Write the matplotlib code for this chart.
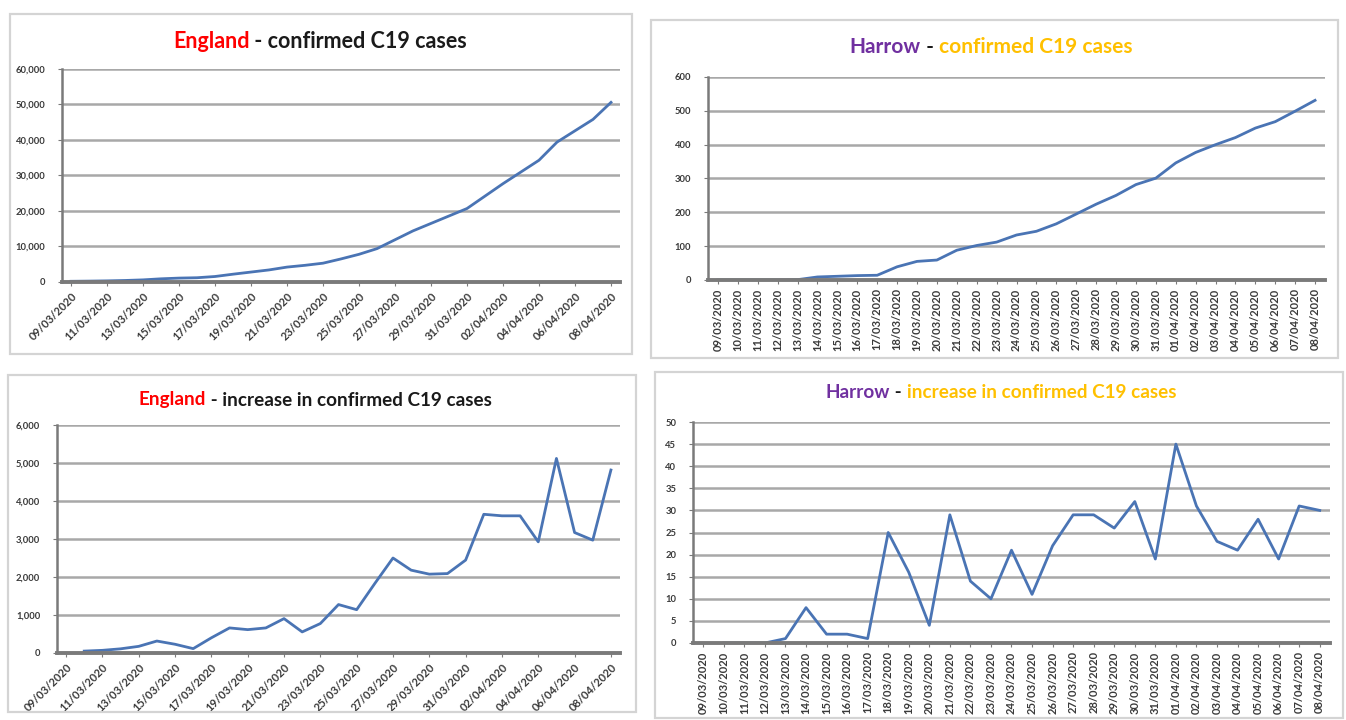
import matplotlib
matplotlib.use("Agg")
import matplotlib.pyplot as plt
from matplotlib.patches import Rectangle
from matplotlib.ticker import FuncFormatter, MultipleLocator
import numpy as np

plt.rcParams['font.family'] = ['Lato', 'DejaVu Sans']

# ---------------- data ----------------
dates = ["09/03/2020", "10/03/2020", "11/03/2020", "12/03/2020", "13/03/2020", "14/03/2020",
         "15/03/2020", "16/03/2020", "17/03/2020", "18/03/2020", "19/03/2020", "20/03/2020",
         "21/03/2020", "22/03/2020", "23/03/2020", "24/03/2020", "25/03/2020", "26/03/2020",
         "27/03/2020", "28/03/2020", "29/03/2020", "30/03/2020", "31/03/2020", "01/04/2020",
         "02/04/2020", "03/04/2020", "04/04/2020", "05/04/2020", "06/04/2020", "07/04/2020",
         "08/04/2020"]

england_confirmed = [200, 250, 320, 430, 600, 900, 1100, 1200, 1550, 2200, 2800, 3400,
                     4200, 4700, 5300, 6500, 7800, 9400, 11900, 14400, 16500, 18600,
                     20700, 24200, 27700, 31000, 34300, 39400, 42600, 45800, 50600]

england_increase = [np.nan, 50, 70, 110, 175, 315, 230, 115, 400, 660, 615, 660,
                    905, 555, 775, 1275, 1140, 1830, 2500, 2180, 2075, 2090,
                    2445, 3650, 3610, 3610, 2925, 5120, 3170, 2970, 4815]

harrow_confirmed = [0, 0, 0, 0, 1, 9, 11, 13, 14, 39, 55, 59, 88, 102, 112, 133,
                    144, 166, 195, 224, 250, 282, 301, 346, 377, 400, 421, 449,
                    468, 499, 531]

harrow_increase = [np.nan, 0, 0, 0, 1, 8, 2, 2, 1, 25, 16, 4, 29, 14, 10, 21,
                   11, 22, 29, 29, 26, 32, 19, 45, 31, 23, 21, 28, 19, 31, 30]

# ---------------- style ----------------
W, H = 1346, 720
fig = plt.figure(figsize=(W / 100, H / 100), dpi=100)
fig.patch.set_facecolor("white")

LINE_C = "#4a74b4"
GRID_C = "#a8a8a8"
AXIS_C = "#7a7a7a"
TICK_C = "#3a3a3a"
RED = "#ff0000"
PURPLE = "#7030a0"
GOLD = "#ffc000"
BLACK = "#1a1a1a"


def px_box(x0, y0, x1, y1):
    return [x0 / W, 1 - y1 / H, (x1 - x0) / W, (y1 - y0) / H]


# panel frames
for (x0, y0, x1, y1) in [(10, 14, 632, 354), (651, 20, 1338, 358),
                         (8, 375, 636, 712), (655, 372, 1343, 718)]:
    fig.patches.append(Rectangle((x0 / W, 1 - y1 / H), (x1 - x0) / W, (y1 - y0) / H,
                                 transform=fig.transFigure, fill=False,
                                 edgecolor="#d4d4d4", linewidth=1.6))


def comma_fmt(v, pos):
    return f"{int(round(v)):,}"


def setup_axes(rect, values, ymax, ystep, every, rotation, fmt_commas):
    ax = fig.add_axes(rect)
    x = np.arange(len(dates))
    ax.plot(x, values, color=LINE_C, linewidth=2.0, solid_joinstyle="round")
    ax.set_xlim(-0.5, len(dates) - 0.5)
    ax.set_ylim(0, ymax)
    ax.yaxis.set_major_locator(MultipleLocator(ystep))
    if fmt_commas:
        ax.yaxis.set_major_formatter(FuncFormatter(comma_fmt))
    ax.grid(axis="y", color=GRID_C, linewidth=1.8)
    ax.set_axisbelow(True)
    for s in ["top", "right"]:
        ax.spines[s].set_visible(False)
    ax.spines["left"].set_color(AXIS_C)
    ax.spines["left"].set_linewidth(1.8)
    ax.spines["bottom"].set_color(AXIS_C)
    ax.spines["bottom"].set_linewidth(2.8)
    ticks = x[::every]
    ax.set_xticks(ticks)
    if rotation == 45:
        ax.set_xticklabels([dates[i] for i in ticks], rotation=45, ha="right",
                           rotation_mode="anchor", fontsize=8, color=TICK_C,
                           fontweight="bold")
    else:
        ax.set_xticklabels([dates[i] for i in ticks], rotation=90, ha="center",
                           va="top", fontsize=8, color=TICK_C, fontweight="bold")
    ax.tick_params(axis="x", length=3, color=AXIS_C, pad=3)
    ax.tick_params(axis="y", length=3, color=AXIS_C, labelsize=6.8,
                   labelcolor=TICK_C, pad=9)
    for lab in ax.get_yticklabels():
        lab.set_fontweight("bold")
    return ax


ax1 = setup_axes(px_box(62, 69, 620, 282), england_confirmed, 60000, 10000, 2, 45, True)
ax2 = setup_axes(px_box(708, 77, 1325, 280), harrow_confirmed, 600, 100, 1, 90, False)
ax3 = setup_axes(px_box(57, 425, 620, 653), england_increase, 6000, 1000, 2, 45, True)
ax4 = setup_axes(px_box(693, 422, 1330, 643), harrow_increase, 50, 5, 1, 90, False)

# ---------------- multicolour titles ----------------
fig.canvas.draw()
renderer = fig.canvas.get_renderer()


def colour_title(parts, cx, cy, size):
    texts = []
    for s, c in parts:
        t = fig.text(0, 1 - cy / H, s, color=c, fontsize=size, fontweight="bold",
                     va="center", ha="left")
        texts.append(t)
    widths = [t.get_window_extent(renderer).width for t in texts]
    total = sum(widths)
    x = cx - total / 2
    for t, w in zip(texts, widths):
        t.set_x(x / W)
        x += w


colour_title([("England", RED), (" - confirmed C19 cases", BLACK)], 320, 42, 15.5)
colour_title([("Harrow", PURPLE), (" - ", BLACK), ("confirmed C19 cases", GOLD)], 991, 47, 15.0)
colour_title([("England", RED), (" - increase in confirmed C19 cases", BLACK)], 315, 400, 13.6)
colour_title([("Harrow", PURPLE), (" - ", BLACK), ("increase in confirmed C19 cases", GOLD)],
             1001, 393, 13.6)

fig.savefig("out.png", dpi=100, facecolor="white")
